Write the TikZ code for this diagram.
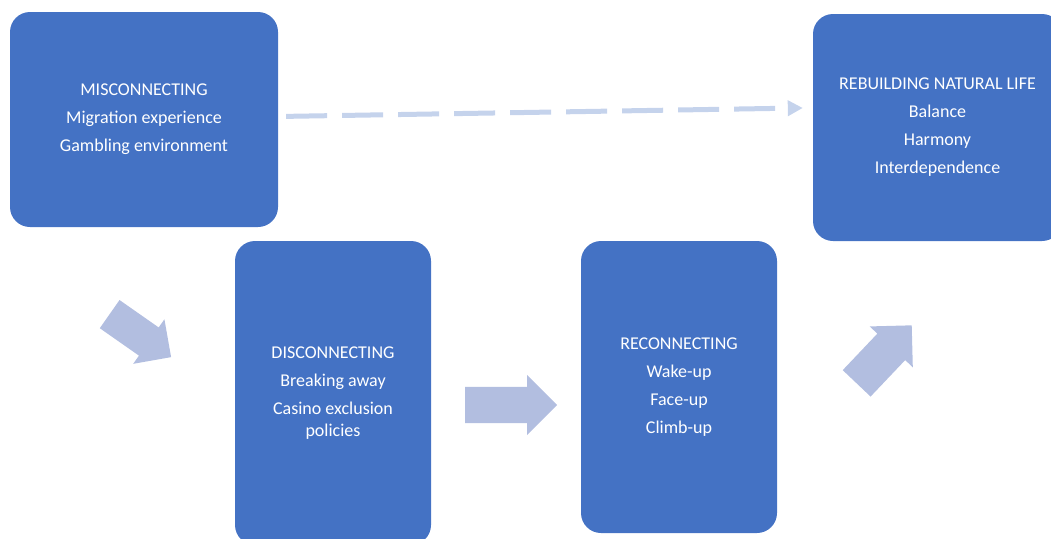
\documentclass[tikz,border=0pt]{standalone}
\usepackage{fontspec}
\setmainfont{Carlito}
\usepackage{tikz}
\usetikzlibrary{shapes.arrows}
\usetikzlibrary{arrows.meta}

\definecolor{boxblue}{RGB}{68,114,196}
\definecolor{arrowblue}{RGB}{178,190,224}
\definecolor{dashblue}{RGB}{197,211,236}

\begin{document}
\begin{tikzpicture}[line join=miter,x=1pt,y=-1pt]
\useasboundingbox (0,0) rectangle (1051,538);
\clip (0,0) rectangle (1051,538);

\tikzstyle{mybox}= [fill=boxblue, rounded corners=20pt, text=white, align=center, inner sep=0pt, font=\fontsize{18}{21.5}\selectfont];
\tikzstyle{myarrow}= [single arrow, fill=arrowblue, inner xsep=0pt, single arrow head indent=0pt, anchor=tail];
\tikzstyle{mydashed}= [draw=dashblue, line width=5pt, dash pattern=on 41pt off 15pt, -{Triangle[length=15pt,width=15pt]}];

% stages
\node[mybox, minimum width=268, minimum height=215] (mis) at (144,119.5) {MISCONNECTING\\[6.5pt]Migration experience\\[6.5pt]Gambling environment};
\node[mybox, minimum width=196, minimum height=304] (dis) at (333,393) {DISCONNECTING\\[6.5pt]Breaking away\\[6.5pt]Casino exclusion\\policies};
\node[mybox, minimum width=196, minimum height=292] (rec) at (679,387) {RECONNECTING\\[6.5pt]Wake-up\\[6.5pt]Face-up\\[6.5pt]Climb-up};
\node[mybox, minimum width=249, minimum height=227] (reb) at (937.5,127.5) {REBUILDING NATURAL LIFE\\[6.5pt]Balance\\[6.5pt]Harmony\\[6.5pt]Interdependence};

% block arrows (placed by their tails)
\node[myarrow, inner ysep=17pt, single arrow head extend=10pt, minimum height=75pt, rotate=-35] (mistodis) at (109.5,314) {};
\node[myarrow, inner ysep=18pt, single arrow head extend=12pt, minimum height=92pt] (distorec) at (465,405) {};
\node[myarrow, inner ysep=19pt, single arrow head extend=10.5pt, minimum height=80pt, rotate=46.5] (rectoreb) at (856.5,383.5) {};

% dashed shortcut
\draw[mydashed, shorten <=8pt, shorten >=10pt] ([yshift=3pt]mis.east) -- ([yshift=19.7pt]reb.west);
\end{tikzpicture}
\end{document}
